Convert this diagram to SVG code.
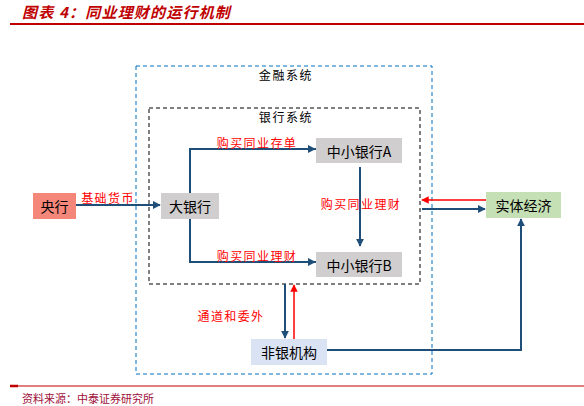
<svg xmlns="http://www.w3.org/2000/svg" width="584" height="406" viewBox="0 0 584 406">
<style>
.t{font-family:"Noto Sans CJK SC","Noto Sans",sans-serif;}
.node{font-family:"Noto Sans CJK SC","Liberation Sans",sans-serif;font-size:14px;fill:#000;text-anchor:middle;dominant-baseline:central;}
.lbl{font-family:"Noto Sans CJK SC",sans-serif;font-size:12px;letter-spacing:1.4px;fill:#FF0000;text-anchor:middle;dominant-baseline:central;}
.sys{font-family:"Noto Sans CJK SC",sans-serif;font-size:12px;letter-spacing:1.6px;fill:#000;text-anchor:middle;dominant-baseline:central;}
.c{fill:none;stroke:#1F4E79;stroke-width:2;}
.r{fill:none;stroke:#FF0000;stroke-width:1.5;}
</style>
<defs>
<marker id="ab" viewBox="0 0 10 10" refX="9" refY="5" markerWidth="4" markerHeight="4" orient="auto"><path d="M0,0L10,5L0,10z" fill="#1F4E79"/></marker>
<marker id="ar" viewBox="0 0 10 10" refX="9" refY="5" markerWidth="5" markerHeight="5" orient="auto"><path d="M0,0L10,5L0,10z" fill="#FF0000"/></marker>
</defs>
<rect width="584" height="406" fill="#fff"/>
<text x="22" y="18" class="t" font-size="15" letter-spacing="1.2" font-weight="bold" font-style="italic" fill="#C00000">图表 4：同业理财的运行机制</text>
<line x1="10" y1="24" x2="584" y2="24" stroke="#C00000" stroke-width="2"/>
<g id="financial-system">
<rect x="136" y="66" width="296" height="308" fill="none" stroke="#0070C0" stroke-width="1" stroke-dasharray="4,3"/>
<text x="286" y="74" class="sys">金融系统</text>
</g>
<g id="bank-system">
<rect x="149" y="108" width="271" height="176" fill="none" stroke="#000" stroke-width="1" stroke-dasharray="4,3"/>
<text x="286" y="116" class="sys">银行系统</text>
</g>
<g id="connectors">
<line x1="76" y1="205" x2="160" y2="205" class="c" marker-end="url(#ab)"/>
<polyline points="316,149 190,149 190,262 316,262" class="c" stroke-width="1.5"/>
<line x1="190" y1="149" x2="315" y2="149" class="c" stroke-width="1.5" marker-end="url(#ab)"/>
<line x1="190" y1="262" x2="315" y2="262" class="c" stroke-width="1.5" marker-end="url(#ab)"/>
<line x1="360" y1="167" x2="360" y2="246" class="c" stroke-width="1.5" marker-end="url(#ab)"/>
<line x1="486" y1="200" x2="422" y2="200" class="r" stroke-width="2" marker-end="url(#ar)"/>
<line x1="422" y1="209" x2="485" y2="209" class="c" marker-end="url(#ab)"/>
<polyline points="327,350 521,350 521,219" class="c" marker-end="url(#ab)"/>
<line x1="285" y1="284" x2="285" y2="338" class="c" marker-end="url(#ab)"/>
<line x1="294" y1="339" x2="294" y2="285" class="r" marker-end="url(#ar)"/>
</g>
<g id="labels">
<text x="108" y="197" class="lbl">基础货币</text>
<text x="257" y="142" class="lbl">购买同业存单</text>
<text x="361" y="203" class="lbl">购买同业理财</text>
<text x="257" y="255" class="lbl">购买同业理财</text>
<text x="231" y="315" class="lbl">通道和委外</text>
</g>
<g id="central-bank"><rect x="33" y="193" width="43" height="26" fill="#F4877A"/><text x="54.5" y="206" class="node">央行</text></g>
<g id="big-bank"><rect x="161" y="193" width="58" height="26" fill="#D0CECE"/><text x="190" y="206" class="node">大银行</text></g>
<g id="small-bank-a"><rect x="316" y="138" width="86" height="25" fill="#D0CECE"/><text x="359" y="150.5" class="node">中小银行A</text></g>
<g id="small-bank-b"><rect x="316" y="252" width="86" height="25" fill="#D0CECE"/><text x="359" y="264.5" class="node">中小银行B</text></g>
<g id="real-economy"><rect x="486" y="192" width="75" height="26" fill="#C5E0B4"/><text x="523.5" y="205" class="node">实体经济</text></g>
<g id="non-bank"><rect x="251" y="339" width="76" height="26" fill="#DAE3F3"/><text x="289" y="352" class="node">非银机构</text></g>
<line x1="10" y1="386" x2="584" y2="386" stroke="#C00000" stroke-width="1.2"/>
<line x1="10" y1="386" x2="18" y2="386" stroke="#C00000" stroke-width="2.5"/>
<text x="22" y="398" class="t" font-size="11" fill="#A0103A" dominant-baseline="central">资料来源：中泰证券研究所</text>
</svg>
